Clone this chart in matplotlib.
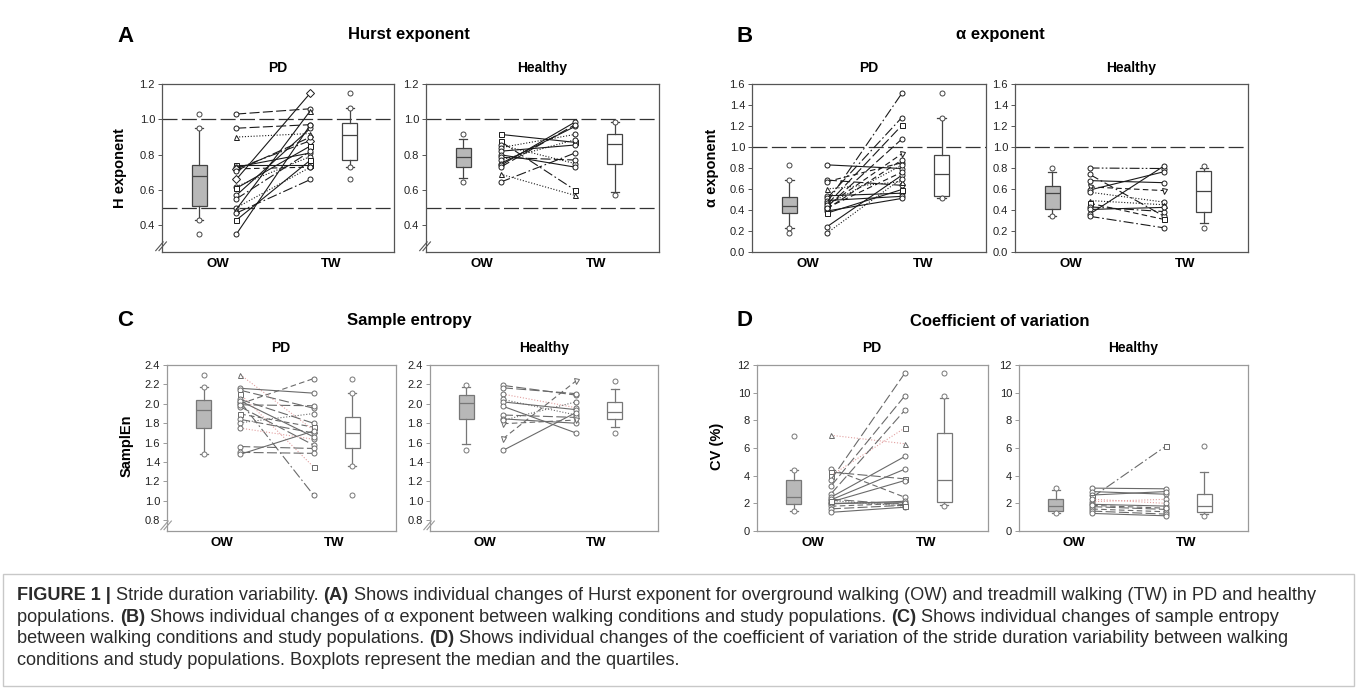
import matplotlib
matplotlib.use('Agg')
import matplotlib.pyplot as plt
from matplotlib.patches import Rectangle

plt.rcParams['font.family'] = ['Liberation Sans', 'DejaVu Sans']

W, H = 1357, 689

# ---------------- data ----------------
# Hurst exponent
hurst_pd_ow = [1.03, 0.95, 0.90, 0.74, 0.73, 0.72, 0.72, 0.71, 0.66, 0.62, 0.61, 0.57, 0.55, 0.50, 0.49, 0.47, 0.43, 0.35]
hurst_pd_tw = [1.06, 0.97, 0.92, 0.74, 0.81, 0.73, 0.88, 0.90, 1.15, 0.79, 0.85, 0.95, 0.82, 0.73, 1.05, 0.66, 0.77, 0.97]
hurst_h_ow = [0.915, 0.875, 0.855, 0.84, 0.82, 0.80, 0.785, 0.77, 0.75, 0.74, 0.73, 0.69, 0.645]
hurst_h_tw = [0.87, 0.60, 0.75, 0.915, 0.855, 0.73, 0.77, 0.885, 0.96, 0.985, 0.97, 0.57, 0.81]

# alpha exponent
alpha_pd_ow = [0.83, 0.685, 0.67, 0.60, 0.535, 0.51, 0.49, 0.47, 0.45, 0.44, 0.43, 0.41, 0.39, 0.37, 0.24, 0.18, 0.45, 0.42]
alpha_pd_tw = [0.795, 0.635, 0.85, 0.67, 0.56, 1.28, 0.53, 1.51, 1.205, 0.935, 1.075, 0.875, 0.51, 0.595, 0.73, 0.70, 0.825, 0.76]
alpha_h_ow = [0.80, 0.74, 0.68, 0.62, 0.59, 0.57, 0.49, 0.465, 0.43, 0.405, 0.36, 0.34]
alpha_h_tw = [0.795, 0.34, 0.66, 0.585, 0.765, 0.475, 0.45, 0.31, 0.385, 0.425, 0.82, 0.23]

# sample entropy
sampen_pd_ow = [2.30, 2.16, 2.14, 2.10, 2.045, 2.02, 2.00, 1.97, 1.895, 1.84, 1.805, 1.75, 1.56, 1.50, 1.48, 2.03, 1.99]
sampen_pd_tw = [1.73, 2.11, 1.955, 1.35, 1.80, 1.06, 2.26, 1.575, 1.76, 1.70, 1.90, 1.635, 1.54, 1.49, 1.72, 1.66, 1.98]
sampen_h_ow = [2.19, 2.165, 2.10, 2.045, 2.02, 1.975, 1.885, 1.845, 1.795, 1.64, 1.52, 1.83]
sampen_h_tw = [2.09, 2.105, 1.96, 1.885, 1.94, 1.70, 1.86, 1.80, 1.833, 2.235, 1.91, 2.02]

# coefficient of variation (%)
cv_pd_ow = [6.92, 4.5, 4.26, 4.0, 3.7, 3.24, 2.68, 2.44, 2.25, 2.10, 1.96, 1.79, 1.60, 1.35, 2.3, 2.0, 2.2]
cv_pd_tw = [6.31, 2.44, 3.77, 7.45, 11.41, 9.77, 8.73, 5.39, 4.47, 3.65, 2.15, 2.0, 1.86, 1.72, 1.9, 2.05, 1.8]
cv_h_ow = [3.10, 2.85, 2.60, 2.44, 2.12, 1.93, 1.76, 1.59, 1.44, 1.27, 2.3, 1.85]
cv_h_tw = [3.05, 2.66, 2.85, 6.12, 2.29, 1.80, 1.56, 1.39, 1.22, 1.10, 2.0, 1.65]

# line style / marker codes per subject
hurst_pd_ls, hurst_pd_mk = "llossdclsosscoscss", "oo^sooDoDosooo^oso"
hurst_h_ls, hurst_h_mk = "scoosslossloc", "ssooooooooo^o"
alpha_pd_ls, alpha_pd_mk = "sldoscscldldsssood", "ooo^oooosvooosoooo"
alpha_h_ls, alpha_h_mk = "xcsdsoodcssc", "ooovoo^soooo"
sampen_pd_ls, sampen_pd_mk = "rslrlcdldlorllssl", "^oosoooosoooooooo"
sampen_h_ls, sampen_h_mk = "llrosslsddso", "oooooooovvoo"
cv_pd_ls, cv_pd_mk = "rdlrlllssssdlslso", "^ossoooooooooooos"
cv_h_ls, cv_h_mk = "ssscrsldlsrd", "ooosoooooooo"

# boxplot stats: whisker low, q1, median, q3, whisker high ; fliers
hurst_pd_box = [[0.43, 0.51, 0.68, 0.74, 0.95], [0.73, 0.77, 0.91, 0.98, 1.065]]
hurst_pd_fl = [[1.03, 0.95, 0.43, 0.35], [1.15, 1.065, 0.73, 0.66]]
hurst_h_box = [[0.67, 0.73, 0.785, 0.84, 0.89], [0.59, 0.75, 0.86, 0.915, 0.985]]
hurst_h_fl = [[0.915, 0.645], [0.985, 0.57]]
alpha_pd_box = [[0.225, 0.375, 0.44, 0.525, 0.685], [0.51, 0.535, 0.74, 0.92, 1.28]]
alpha_pd_fl = [[0.83, 0.685, 0.225, 0.18], [1.51, 1.28, 0.51]]
alpha_h_box = [[0.345, 0.405, 0.56, 0.63, 0.765], [0.275, 0.38, 0.58, 0.775, 0.80]]
alpha_h_fl = [[0.80, 0.345], [0.82, 0.23]]
sampen_pd_box = [[1.48, 1.755, 1.935, 2.04, 2.17], [1.36, 1.55, 1.70, 1.865, 2.115]]
sampen_pd_fl = [[2.30, 2.17, 1.48], [2.26, 2.115, 1.36, 1.06]]
sampen_h_box = [[1.585, 1.84, 2.01, 2.09, 2.17], [1.76, 1.84, 1.92, 2.02, 2.15]]
sampen_h_fl = [[2.19, 1.52], [2.235, 1.70]]
cv_pd_box = [[1.43, 1.96, 2.49, 3.70, 4.43], [1.89, 2.08, 3.70, 7.09, 9.65]]
cv_pd_fl = [[6.89, 4.43, 1.43], [11.41, 9.77, 1.80]]
cv_h_box = [[1.32, 1.41, 1.83, 2.29, 2.93], [1.20, 1.34, 1.83, 2.66, 4.24]]
cv_h_fl = [[3.10, 1.32], [6.12, 1.10]]

conditions = ['OW', 'TW']

# ---------------- styling ----------------
LS = {'s': '-', 'l': (0, (9, 3)), 'd': (0, (5, 3)), 'o': (0, (1, 1.6)),
      'c': (0, (9, 2.5, 1.5, 2.5)), 'x': (0, (9, 2, 1.5, 2, 1.5, 2)),
      'r': (0, (1, 1.6))}
X_BOX_OW, X_OW, X_TW, X_BOX_TW = 0.16, 0.32, 0.64, 0.81

fig = plt.figure(figsize=(W / 100, H / 100), dpi=100)


def rect(x0, y0, x1, y1):
    return [x0 / W, 1 - y1 / H, (x1 - x0) / W, (y1 - y0) / H]


def px(x, y):
    return x / W, 1 - y / H


def panel(r, ow, tw, ls, mk, box, fl, ylim, yticks, fmt, light=False,
          refs=(), brk=False):
    ax = fig.add_axes(r)
    ink = '#6a6a6a' if light else '#1a1a1a'
    spc = '#9a9a9a' if light else '#555555'
    boxc = '#777777' if light else '#444444'
    for a, b, s, m in zip(ow, tw, ls, mk):
        col = '#e2a0a0' if s == 'r' else ink
        ax.plot([X_OW, X_TW], [a, b], color=col, ls=LS[s], lw=0.8,
                marker=m, ms=3.6, mfc='white', mec=ink, mew=0.7, zorder=3)
    stats = [dict(whislo=b[0], q1=b[1], med=b[2], q3=b[3], whishi=b[4],
                  fliers=f) for b, f in zip(box, fl)]
    bp = ax.bxp(stats, positions=[X_BOX_OW, X_BOX_TW], widths=0.065,
                capwidths=0.035, patch_artist=True, manage_ticks=False,
                boxprops=dict(edgecolor=boxc, lw=0.9),
                medianprops=dict(color=boxc, lw=0.9),
                whiskerprops=dict(color=boxc, lw=0.9),
                capprops=dict(color=boxc, lw=0.9),
                flierprops=dict(marker='o', ms=3.6, mfc='white', mec=boxc,
                                mew=0.7, ls='none'))
    bp['boxes'][0].set_facecolor('#b8b8b8')
    bp['boxes'][1].set_facecolor('white')
    for y in refs:
        ax.axhline(y, color='#333333', lw=0.9, ls=(0, (12, 3.5)), zorder=1)
    ax.set_xlim(0, 1)
    ax.set_ylim(*ylim)
    ax.set_yticks(yticks)
    ax.set_yticklabels([fmt % v for v in yticks])
    ax.set_xticks([0.24, 0.73])
    ax.set_xticklabels(conditions, fontsize=9.5, fontweight='bold')
    ax.tick_params(axis='x', length=0, pad=4)
    ax.tick_params(axis='y', length=3, width=0.7, color=spc, labelsize=8,
                   labelcolor='#222222', pad=2)
    for sp in ax.spines.values():
        sp.set_color(spc)
        sp.set_linewidth(0.9)
    if brk:
        for dx in (0.0, 0.014):
            ax.plot([-0.027 + dx, 0.005 + dx], [0.008, 0.06], color=spc,
                    lw=0.8, transform=ax.transAxes, clip_on=False)
    return ax


yA = [0.4, 0.6, 0.8, 1.0, 1.2]
yB = [0.0, 0.2, 0.4, 0.6, 0.8, 1.0, 1.2, 1.4, 1.6]
yC = [0.8, 1.0, 1.2, 1.4, 1.6, 1.8, 2.0, 2.2, 2.4]
yD = [0, 2, 4, 6, 8, 10, 12]

panel(rect(162, 84, 394, 252), hurst_pd_ow, hurst_pd_tw, hurst_pd_ls, hurst_pd_mk,
      hurst_pd_box, hurst_pd_fl, (0.25, 1.2), yA, '%.1f', refs=(0.5, 1.0), brk=True)
panel(rect(426, 84, 659, 252), hurst_h_ow, hurst_h_tw, hurst_h_ls, hurst_h_mk,
      hurst_h_box, hurst_h_fl, (0.25, 1.2), yA, '%.1f', refs=(0.5, 1.0), brk=True)
panel(rect(752, 84, 986, 252), alpha_pd_ow, alpha_pd_tw, alpha_pd_ls, alpha_pd_mk,
      alpha_pd_box, alpha_pd_fl, (0.0, 1.6), yB, '%.1f', refs=(1.0,))
panel(rect(1015, 84, 1248, 252), alpha_h_ow, alpha_h_tw, alpha_h_ls, alpha_h_mk,
      alpha_h_box, alpha_h_fl, (0.0, 1.6), yB, '%.1f', refs=(1.0,))
panel(rect(167, 365, 396, 531), sampen_pd_ow, sampen_pd_tw, sampen_pd_ls, sampen_pd_mk,
      sampen_pd_box, sampen_pd_fl, (0.69, 2.4), yC, '%.1f', light=True, brk=True)
panel(rect(430, 365, 658, 531), sampen_h_ow, sampen_h_tw, sampen_h_ls, sampen_h_mk,
      sampen_h_box, sampen_h_fl, (0.69, 2.4), yC, '%.1f', light=True, brk=True)
panel(rect(757, 365, 988, 531), cv_pd_ow, cv_pd_tw, cv_pd_ls, cv_pd_mk,
      cv_pd_box, cv_pd_fl, (0, 12), yD, '%d', light=True)
panel(rect(1019, 365, 1248, 531), cv_h_ow, cv_h_tw, cv_h_ls, cv_h_mk,
      cv_h_box, cv_h_fl, (0, 12), yD, '%d', light=True)

# panel letters, titles, subtitles, y labels
for letter, (x, y) in zip('ABCD', [(125, 36), (745, 36), (125, 321), (745, 321)]):
    fig.text(*px(x, y), letter, fontsize=16, fontweight='bold', ha='center', va='center')
for title, (x, y) in zip(['Hurst exponent', '\u03b1 exponent', 'Sample entropy',
                          'Coefficient of variation'],
                         [(409, 35), (1000, 35), (409, 321), (1000, 321)]):
    fig.text(*px(x, y), title, fontsize=12, fontweight='bold', ha='center', va='center')
for label, (x, y) in zip(['PD', 'Healthy'] * 4,
                         [(278, 68), (542, 68), (869, 68), (1131, 68),
                          (281, 348), (544, 348), (872, 348), (1133, 348)]):
    fig.text(*px(x, y), label, fontsize=10, fontweight='bold', ha='center', va='center')
for label, (x, y) in zip(['H exponent', '\u03b1 exponent', 'SamplEn', 'CV (%)'],
                         [(120, 168), (712, 168), (127, 446), (717, 446)]):
    fig.text(*px(x, y), label, fontsize=10.5, fontweight='bold', rotation=90,
             ha='center', va='center')

# caption
fig.patches.append(Rectangle(px(3, 686), 1351 / W, 112 / H, transform=fig.transFigure,
                             fill=False, edgecolor='#c8c8c8', lw=1.0))
cap_lines = [
    [("FIGURE 1 |", True), (" Stride duration variability. ", False), ("(A)", True),
     (" Shows individual changes of Hurst exponent for overground walking (OW) and treadmill walking (TW) in PD and healthy", False)],
    [("populations. ", False), ("(B)", True),
     (" Shows individual changes of \u03b1 exponent between walking conditions and study populations. ", False),
     ("(C)", True), (" Shows individual changes of sample entropy", False)],
    [("between walking conditions and study populations. ", False), ("(D)", True),
     (" Shows individual changes of the coefficient of variation of the stride duration variability between walking", False)],
    [("conditions and study populations. Boxplots represent the median and the quartiles.", False)],
]
cap_family = ['Liberation Sans', 'DejaVu Sans']
renderer = fig.canvas.get_renderer()
probe = fig.text(0, 0, ''.join(t for t, _ in cap_lines[0]), fontsize=10, family=cap_family)
cap_size = 10 * 1300 / probe.get_window_extent(renderer).width
probe.remove()

bg = fig.add_axes([0, 0, 1, 1])
bg.axis('off')
bg.set_zorder(-1)
for row, parts in enumerate(cap_lines):
    y = 604 + row * 21.7
    prev = None
    for txt, bold in parts:
        kw = dict(fontsize=cap_size, family=cap_family, color='#2b2b2b',
                  fontweight='bold' if bold else 'normal', va='bottom', ha='left')
        if prev is None:
            prev = bg.text(*px(17, y), txt, transform=fig.transFigure, **kw)
        else:
            prev = bg.annotate(txt, xy=(1, 0), xycoords=prev, **kw)

fig.savefig('out.png', dpi=100)
